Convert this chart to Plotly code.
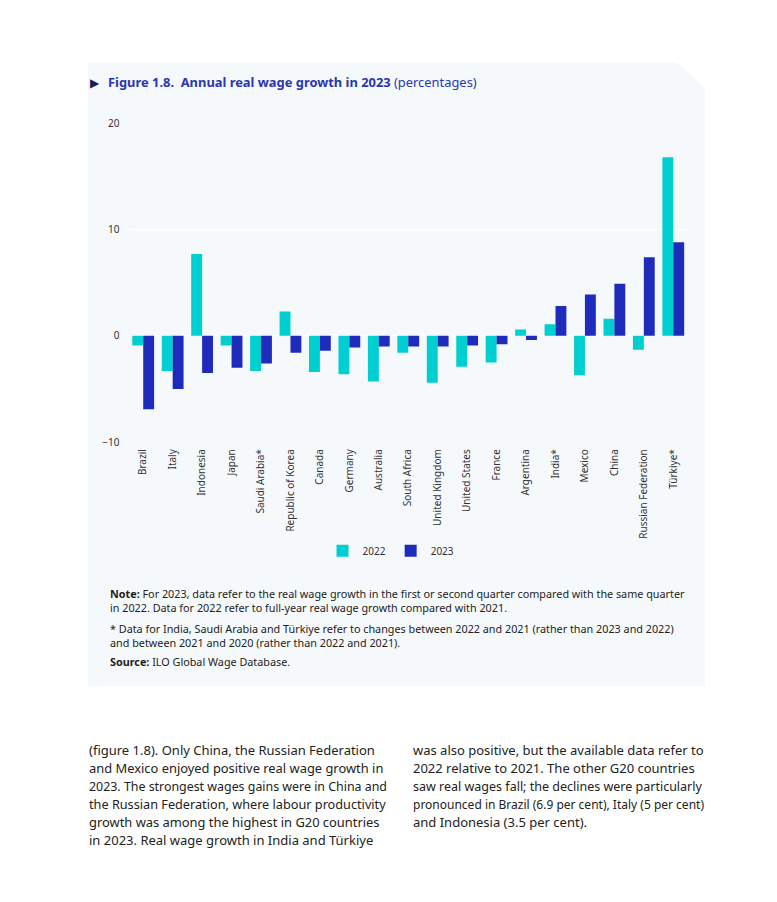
import plotly.graph_objects as go

W, H = 777, 902
OFFX = 8        # horizontal page offset observed in the screenshot
OFFY = 14.5     # vertical page offset observed in the screenshot
SCY = 890.7     # effective vertical extent observed in the screenshot

countries = ["Brazil", "Italy", "Indonesia", "Japan", "Saudi Arabia*", "Republic of Korea",
             "Canada", "Germany", "Australia", "South Africa", "United Kingdom",
             "United States", "France", "Argentina", "India*", "Mexico", "China",
             "Russian Federation", "Türkiye*"]
growth_2022 = [-0.9, -3.3, 7.7, -0.9, -3.3, 2.3, -3.4, -3.6, -4.3, -1.6, -4.4,
               -2.9, -2.5, 0.6, 1.1, -3.7, 1.6, -1.3, 16.8]
growth_2023 = [-6.9, -5.0, -3.5, -3.0, -2.6, -1.6, -1.4, -1.1, -1.0, -1.0, -1.0,
               -0.9, -0.8, -0.4, 2.8, 3.9, 4.9, 7.4, 8.8]
y_ticks = [-10, 0, 10, 20]

C22 = "#00cfd2"
C23 = "#1f2bbb"
FONT = "Noto Sans"
TXT = "#222222"


def px(x):
    return (x - OFFX) / W


def py(y):
    return 1 - (y - OFFY) / SCY


fig = go.Figure()
fig.add_trace(go.Bar(x=countries, y=growth_2022, name="2022", marker_color=C22,
                     marker_line_width=0))
fig.add_trace(go.Bar(x=countries, y=growth_2023, name="2023", marker_color=C23,
                     marker_line_width=0))

# panel background with chamfered top-right corner
x0, y0, x1, y1 = px(88), py(62), px(705), py(688)
cx, cy = px(677), py(88)
fig.add_shape(type="path", xref="paper", yref="paper",
              path=f"M {x0} {y0} L {cx} {y0} L {x1} {cy} L {x1} {y1} L {x0} {y1} Z",
              fillcolor="#f6f9fc", line_width=0, layer="below")

ann = []
# title
ann.append(dict(x=px(88), y=py(82), xref="paper", yref="paper", xanchor="left", yanchor="middle",
                text="▶", showarrow=False, font=dict(family=FONT, size=12, color="#1b1b5c")))
ann.append(dict(x=px(106), y=py(82), xref="paper", yref="paper", xanchor="left", yanchor="middle",
                text="<b>Figure 1.8.  Annual real wage growth in 2023</b> (percentages)",
                showarrow=False, font=dict(family=FONT, size=12.9, color="#2a36b0")))

notes = [
    (108, 601.5, "<b>Note:</b> For 2023, data refer to the real wage growth in the first or second quarter compared with the same quarter"
                 "<br>in 2022. Data for 2022 refer to full-year real wage growth compared with 2021."),
    (108, 637, "* Data for India, Saudi Arabia and Türkiye refer to changes between 2022 and 2021 (rather than 2023 and 2022)"
               "<br>and between 2021 and 2020 (rather than 2022 and 2021)."),
    (108, 663, "<b>Source:</b> ILO Global Wage Database."),
]
for x, y, t in notes:
    ann.append(dict(x=px(x), y=py(y), xref="paper", yref="paper", xanchor="left", yanchor="middle",
                    align="left", text=t, showarrow=False,
                    font=dict(family=FONT, size=10.8, color=TXT)))

# body text lines (justified in the original; sizes trimmed so lines fit the column)
left_col = [
    "(figure 1.8). Only China, the Russian Federation",
    "and Mexico enjoyed positive real wage growth in",
    "2023. The strongest wages gains were in China and",
    "the Russian Federation, where labour productivity",
    "growth was among the highest in G20 countries",
    "in 2023. Real wage growth in India and Türkiye",
]
left_sizes = [13, 12.9, 12.4, 12.7, 12.9, 13]
right_col = [
    "was also positive, but the available data refer to",
    "2022 relative to 2021. The other G20 countries",
    "saw real wages fall; the declines were particularly",
    "pronounced in Brazil (6.9 per cent), Italy (5 per cent)",
    "and Indonesia (3.5 per cent).",
]
right_sizes = [13, 13, 12.5, 12, 13]
for i, t in enumerate(left_col):
    ann.append(dict(x=px(87), y=py(752 + 18 * i), xref="paper", yref="paper", xanchor="left",
                    yanchor="middle", text=t, showarrow=False,
                    font=dict(family=FONT, size=left_sizes[i], color=TXT)))
for i, t in enumerate(right_col):
    ann.append(dict(x=px(411), y=py(752 + 18 * i), xref="paper", yref="paper", xanchor="left",
                    yanchor="middle", text=t, showarrow=False,
                    font=dict(family=FONT, size=right_sizes[i], color=TXT)))

fig.update_layout(
    width=W, height=H,
    margin=dict(l=0, r=0, t=0, b=0),
    paper_bgcolor="white",
    plot_bgcolor="rgba(0,0,0,0)",
    barmode="group",
    bargap=0.26,
    bargroupgap=0,
    font=dict(family=FONT, size=10, color="#333333"),
    xaxis=dict(domain=[px(128.5), px(688)], tickangle=-90, showgrid=False, showline=False,
               ticks="", tickfont=dict(size=10, color="#333333"), ticklabelstandoff=4),
    yaxis=dict(domain=[py(443), py(123)], range=[-10, 20], tickvals=y_ticks,
               showgrid=True, gridcolor="#ffffff", gridwidth=1, zeroline=False,
               showline=False, ticks="", tickfont=dict(size=10, color="#333333"),
               ticklabelstandoff=8),
    legend=dict(orientation="h", x=px(391), xanchor="center", y=py(552), yanchor="middle",
                font=dict(size=10, color="#333333"), bgcolor="rgba(0,0,0,0)",
                itemwidth=30, tracegroupgap=0),
    annotations=ann,
    showlegend=True,
)

fig.write_html("out.html")
